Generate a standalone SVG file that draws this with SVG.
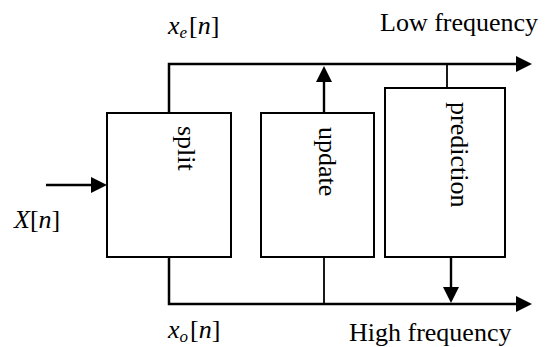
<svg xmlns="http://www.w3.org/2000/svg" width="550" height="347" viewBox="0 0 550 347">
<style>
.box{fill:#fff;stroke:#000;stroke-width:2}
.main{fill:none;stroke:#000;stroke-width:2.5}
.conn{fill:none;stroke:#000;stroke-width:1.8}
.arr{fill:none;stroke:#000;stroke-width:2.4}
.t{font-family:'Liberation Serif','DejaVu Serif',serif;font-size:26px;fill:#000}
.it{font-style:italic}
</style>
<defs>
<marker id="ah" markerUnits="userSpaceOnUse" markerWidth="16" markerHeight="16" refX="12" refY="8" orient="auto" viewBox="0 0 16 16">
<path d="M0,0 L16,8 L0,16 z" fill="#000"/>
</marker>
</defs>
<rect width="550" height="347" fill="#fff"/>
<g id="connectors">
<path class="main" d="M169 113 V64 H528" marker-end="url(#ah)"/>
<path class="main" d="M169 257 V304 H528" marker-end="url(#ah)"/>
<path class="conn" d="M447 88 V64"/>
<path class="conn" d="M324 257 V304"/>
<path class="arr" d="M324 113 V70" marker-end="url(#ah)"/>
<path class="arr" d="M451 257 V299" marker-end="url(#ah)"/>
<path class="arr" d="M46 185 H103" marker-end="url(#ah)"/>
</g>
<g id="split">
<rect class="box" x="107" y="113" width="124" height="144"/>
<text class="t" font-family="Liberation Serif, serif" transform="translate(178,126) rotate(90)">split</text>
</g>
<g id="update">
<rect class="box" x="261" y="113" width="113" height="144"/>
<text class="t" font-family="Liberation Serif, serif" transform="translate(319,127) rotate(90)">update</text>
</g>
<g id="prediction">
<rect class="box" x="385" y="88" width="120" height="169"/>
<text class="t" font-family="Liberation Serif, serif" transform="translate(451,102) rotate(90)">prediction</text>
</g>
<g id="labels" font-family="Liberation Serif, serif">
<text class="t" x="14" y="228"><tspan class="it">X</tspan>[<tspan class="it">n</tspan>]</text>
<text class="t" x="168" y="34"><tspan class="it">x</tspan><tspan class="it" font-size="17" dy="4">e</tspan><tspan dx="2" dy="-4">[</tspan><tspan class="it">n</tspan>]</text>
<text class="t" x="168" y="338"><tspan class="it">x</tspan><tspan class="it" font-size="17" dy="4">o</tspan><tspan dx="2" dy="-4">[</tspan><tspan class="it">n</tspan>]</text>
<text class="t" x="380" y="31">Low frequency</text>
<text class="t" x="349" y="341">High frequency</text>
</g>
</svg>
